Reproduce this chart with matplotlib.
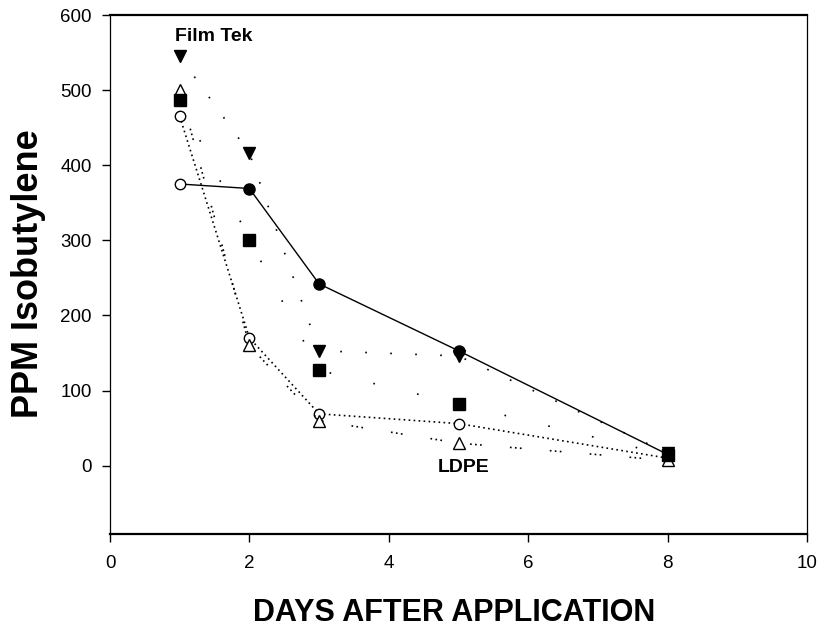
import matplotlib
matplotlib.use("Agg")
import matplotlib.pyplot as plt
import numpy as np

plt.rcParams['font.family'] = ['Liberation Sans', 'DejaVu Sans']

# Data
days = np.array([1, 2, 3, 5, 8])
solid_circle = np.array([375, 369, 242, 153, 15])
film_tek = np.array([545, 416, 153, 146, 17])
square = np.array([487, 301, 127, 82, 14])
open_triangle = np.array([500, 160, 60, 30, 7])
open_circle = np.array([465, 170, 69, 56, 10])

x_ticks = [0, 2, 4, 6, 8, 10]
y_ticks = [0, 100, 200, 300, 400, 500, 600]

fig = plt.figure(figsize=(8.18, 6.3), dpi=100)
ax = fig.add_axes([110 / 818, 1 - 534 / 630, 697 / 818, 519 / 630])

# open circles, dense dotted line
ax.plot(days, open_circle, color='black', lw=1.2, dashes=(1, 2),
        marker='o', ms=7.5, mfc='white', mec='black', mew=1)

# open triangles, dotted dashes
ax.plot(days, open_triangle, color='black', lw=1.2, dashes=(1, 2, 1, 2, 1, 17),
        marker='^', ms=8.5, mfc='white', mec='black', mew=1)

# squares, sparse dots
ax.plot(days, square, color='black', lw=1.2, dashes=(1, 26),
        marker='s', ms=8, mfc='black', mec='black')

# Film Tek, sparse dots
ax.plot(days, film_tek, color='black', lw=1.2, dashes=(1, 14),
        marker='v', ms=9, mfc='black', mec='black')

# solid line, first point open
ax.plot(days, solid_circle, color='black', lw=1.0, ls='-',
        marker='o', ms=8, mfc='black', mec='black', markevery=[1, 2, 3, 4])
ax.plot(days[:1], solid_circle[:1], ls='none', marker='o', ms=7.5,
        mfc='white', mec='black', mew=1)

ax.text(0.93, 572, 'Film Tek', fontsize=14, fontweight='bold', va='center', ha='left')
ax.text(5.08, -2, 'LDPE', fontsize=14, fontweight='bold', va='center', ha='center')

ax.set_xlim(0, 10)
ax.set_ylim(-91, 600)
ax.set_xticks(x_ticks)
ax.set_yticks(y_ticks)
ax.tick_params(axis='both', direction='out', length=6, width=1, labelsize=13.5)
ax.tick_params(axis='x', pad=9)
ax.tick_params(axis='y', pad=7)

ax.spines['top'].set_linewidth(1.6)
ax.spines['bottom'].set_linewidth(1.6)
ax.spines['left'].set_linewidth(0.9)
ax.spines['right'].set_linewidth(0.9)

ax.set_xlabel('DAYS AFTER APPLICATION', fontsize=22, fontweight='bold')
ax.set_ylabel('PPM Isobutylene', fontsize=26, fontweight='bold')
ax.xaxis.set_label_coords(0.494, -0.124)
ax.yaxis.set_label_coords(-0.0924, 0.502)

plt.savefig('out.png', dpi=100)
